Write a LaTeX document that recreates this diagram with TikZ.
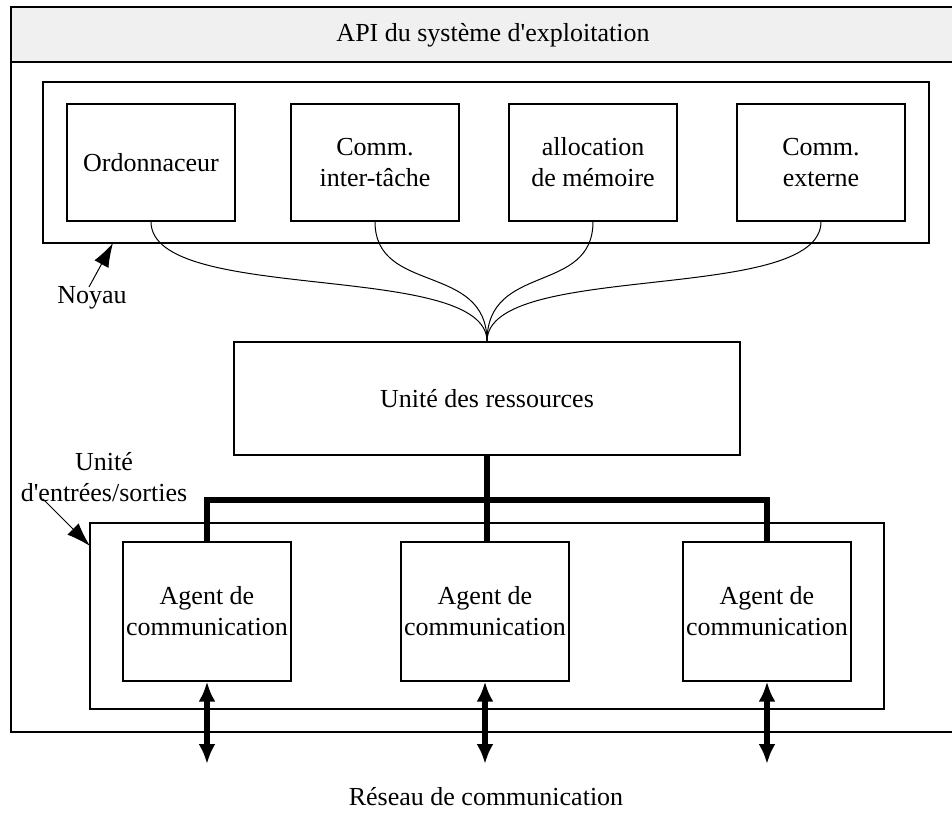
\documentclass[tikz,border=0pt]{standalone}
\usepackage{fontspec}
\setmainfont{Liberation Serif}
\usetikzlibrary{arrows.meta}
\begin{document}
\begin{tikzpicture}[x=1pt,y=-1pt,
  every node/.style={font=\fontsize{26}{31}\selectfont, align=center},
  thin box/.style={draw=black, line width=1.2pt, minimum width=168pt, inner sep=0pt},
  bus/.style={line width=5.5pt, line join=miter},
  link/.style={line width=1pt},
  ptr/.style={line width=1pt, -{Latex[length=24pt,width=16pt]}},
  dbl/.style={line width=6pt, {Latex[length=20pt,width=17pt]}-{Latex[length=20pt,width=17pt]}}
]
\useasboundingbox (0,0) rectangle (952,834);
% outer frame and header
\draw[line width=1.2pt] (11,7) rectangle (970,732);
\draw[line width=1.2pt, fill=black!6] (11,7) rectangle (970,62);
\node (api) at (493,35) {API du système d\textquotesingle exploitation};
% kernel
\draw[line width=1.2pt] (43,82) rectangle (929,243);
\coordinate (kernBL) at (113,243);
\node[thin box, minimum height=117pt] (ord) at (151,162.5) {Ordonnaceur};
\node[thin box, minimum height=117pt] (itc) at (375,162.5) {Comm.\\inter-tâche};
\node[thin box, minimum height=117pt] (mem) at (593,162.5) {allocation\\de mémoire};
\node[thin box, minimum height=117pt] (ext) at (821,162.5) {Comm.\\externe};
\node (noyau) at (92,298) {Noyau};
\draw[ptr] (89,287) -- (kernBL);
% resources
\node[draw, line width=1.2pt, minimum width=506pt, minimum height=113pt, inner sep=0pt] (res) at (487,398.5) {Unité des ressources};
\draw[link] (ord.south) .. controls (151,305) and (487,260) .. (res.north);
\draw[link] (itc.south) .. controls (375,295) and (487,262) .. (res.north);
\draw[link] (mem.south) .. controls (593,295) and (487,262) .. (res.north);
\draw[link] (ext.south) .. controls (821,305) and (487,260) .. (res.north);
% I/O unit
\draw[line width=1.2pt] (90,523) rectangle (884,709);
\coordinate (ioTL) at (90,546);
\node (iolabel) at (104,477) {Unité\\d\textquotesingle entrées/sorties};
\draw[ptr] (43,499) -- (ioTL);
\node[thin box, minimum height=139pt] (ag1) at (207,611.5) {Agent de\\communication};
\node[thin box, minimum height=139pt] (ag2) at (485,611.5) {Agent de\\communication};
\node[thin box, minimum height=139pt] (ag3) at (767,611.5) {Agent de\\communication};
% bus
\coordinate (busy) at (487,500);
\draw[bus] (res.south) -- (busy) -- (ag2.north -| busy);
\draw[bus] (ag1.north) |- (busy) -| (ag3.north);
% network arrows
\coordinate (n1) at (207,764);
\coordinate (n2) at (485,764);
\coordinate (n3) at (767,764);
\draw[dbl] (ag1.south) -- (n1);
\draw[dbl] (ag2.south) -- (n2);
\draw[dbl] (ag3.south) -- (n3);
\node (net) at (486,797) {Réseau de communication};
\end{tikzpicture}
\end{document}
